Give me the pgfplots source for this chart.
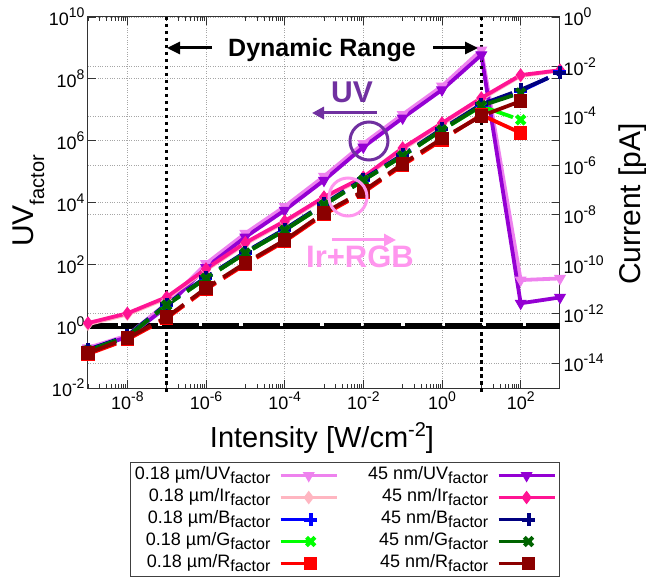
\documentclass[border=0pt]{standalone}
\usepackage{fontspec}
\setmainfont{Liberation Sans}
\usepackage{pgfplots}
\pgfplotsset{compat=1.18}
\usetikzlibrary{arrows.meta}

\definecolor{uvA}{RGB}{238,130,238}
\definecolor{uvB}{RGB}{148,0,211}
\definecolor{irA}{RGB}{255,182,193}
\definecolor{irB}{RGB}{255,20,147}
\definecolor{bA}{RGB}{0,0,255}
\definecolor{bB}{RGB}{0,0,128}
\definecolor{gA}{RGB}{0,255,0}
\definecolor{gB}{RGB}{0,100,0}
\definecolor{rA}{RGB}{255,0,0}
\definecolor{rB}{RGB}{139,0,0}
\definecolor{uvnote}{RGB}{112,48,160}
\definecolor{rgbnote}{RGB}{255,150,238}

% lowered / raised small text
\newcommand\sub[2][16]{\raisebox{-4pt}{\fontsize{#1}{#1}\selectfont #2}}
\newcommand\sups[1]{\raisebox{8pt}{\fontsize{14}{14}\selectfont #1}}

\pgfplotsset{
  longimg/.style={legend image code/.code={%
    \draw[solid,mark repeat=2,mark phase=2] plot coordinates {(0pt,0pt)(28pt,0pt)(56pt,0pt)};}},
  shortimg/.style={legend image code/.code={%
    \draw[solid,mark repeat=2,mark phase=2] plot coordinates {(0pt,0pt)(30pt,0pt)(33pt,0pt)};}},
  uv/.style={line width=3.8pt, mark=triangle*, mark size=6pt, mark options={rotate=180,solid,line width=1pt}, longimg},
  ir/.style={line width=3.8pt, mark=diamond*, mark size=6pt, mark options={solid,line width=1pt}, longimg},
  bb/.style={line width=3.8pt, dash pattern=on 30pt off 9pt, mark=+, mark size=6.5pt, mark options={solid,line width=4pt}, shortimg},
  gg/.style={line width=3.8pt, dash pattern=on 30pt off 9pt, mark=x, mark size=6pt, mark options={solid,line width=4pt}, shortimg},
  rr/.style={line width=3.8pt, dash pattern=on 30pt off 9pt, mark=square*, mark size=6pt, mark options={solid,line width=1.5pt}, shortimg},
}

\begin{document}
\begin{tikzpicture}
\path[use as bounding box] (0pt,0pt) rectangle (646pt,579pt);

% right-hand current axis
\begin{axis}[
  at={(88pt,191pt)}, anchor=south west,
  scale only axis, width=472pt, height=371pt,
  xmode=log, ymode=log,
  xmin=1e-9, xmax=1e3, ymin=1e-15, ymax=1,
  axis x line=none, axis y line*=right,
  axis line style={line width=1pt, black!80},
  tick align=inside, major tick length=8pt,
  tick style={line width=0.8pt, black!80},
  yminorticks=false,
  ytick={1e-14,1e-12,1e-10,1e-8,1e-6,1e-4,1e-2,1},
  yticklabels={10\sups{-14},10\sups{-12},10\sups{-10},10\sups{-8},10\sups{-6},10\sups{-4},10\sups{-2},10\sups{0}},
  yticklabel style={font=\fontsize{18}{18}\selectfont},
  ymajorgrids,
  grid style={dotted, gray!70, line width=0.8pt},
]
\end{axis}

% main axis
\begin{axis}[
  at={(88pt,191pt)}, anchor=south west,
  scale only axis, width=472pt, height=371pt,
  xmode=log, ymode=log,
  xmin=1e-9, xmax=1e3, ymin=1e-2, ymax=1e10,
  clip=false,
  axis line style={line width=1pt, black!80},
  tick align=inside, major tick length=8pt, minor tick length=4.5pt,
  tick style={line width=0.8pt, black!80},
  xtick={1e-8,1e-6,1e-4,1e-2,1,1e2},
  xticklabels={10\sups{-8},10\sups{-6},10\sups{-4},10\sups{-2},10\sups{0},10\sups{2}},
  minor xtick={1e-9,2e-9,3e-9,4e-9,5e-9,6e-9,7e-9,8e-9,9e-9,
               1e-7,2e-7,3e-7,4e-7,5e-7,6e-7,7e-7,8e-7,9e-7,
               1e-5,2e-5,3e-5,4e-5,5e-5,6e-5,7e-5,8e-5,9e-5,
               1e-3,2e-3,3e-3,4e-3,5e-3,6e-3,7e-3,8e-3,9e-3,
               1e-1,2e-1,3e-1,4e-1,5e-1,6e-1,7e-1,8e-1,9e-1,
               10,20,30,40,50,60,70,80,90},
  ytick={1e-2,1,1e2,1e4,1e6,1e8,1e10},
  yticklabels={10\sups{-2},10\sups{0},10\sups{2},10\sups{4},10\sups{6},10\sups{8},10\sups{10}},
  yminorticks=false,
  ticklabel style={font=\fontsize{18}{18}\selectfont},
  xmajorgrids, ymajorgrids,
  grid style={dotted, gray!70, line width=0.8pt},
  legend plot pos=right,
  legend cell align=right,
  legend columns=2,
  legend style={at={(1,-0.1995)}, anchor=north east,
    font=\fontsize{18}{18}\selectfont,
    draw=black!75, line width=1pt, fill=white,
    column sep=7pt, row sep=0pt,
    /tikz/every even column/.append style={column sep=28pt},
    nodes={text height=13pt, text depth=6pt, inner sep=1.5pt}},
]
% unity reference line
\addplot[black, line width=3pt, yshift=-1.5pt, forget plot] coordinates {(1e-9,1) (1e3,1)};
\addplot[black, line width=6pt, dash pattern=on 37pt off 3.5pt, dash phase=7pt, forget plot] coordinates {(1e-9,1) (1e3,1)};

\addplot[uv, color=uvA] coordinates {(1e-9,0.2) (1e-8,0.5) (1e-7,5.5) (1e-6,105) (1e-5,1000) (1e-4,7400) (1e-3,7.0e4) (1e-2,8.0e5) (1e-1,7.0e6) (1,5.8e7) (10,8.5e8) (100,31) (1000,35)};
\addlegendentry{0.18 µm/UV\sub{factor}}
\addplot[uv, color=uvB] coordinates {(1e-9,0.18) (1e-8,0.44) (1e-7,4.2) (1e-6,79) (1e-5,760) (1e-4,5600) (1e-3,5.2e4) (1e-2,6.2e5) (1e-1,5.4e6) (1,4.4e7) (10,5.9e8) (100,5.5) (1000,8.5)};
\addlegendentry{45 nm/UV\sub{factor}}
\addplot[ir, color=irA] coordinates {(1e-9,1.15) (1e-8,2.4) (1e-7,8.0) (1e-6,65) (1e-5,460) (1e-4,2300) (1e-3,1.4e4) (1e-2,6.1e4) (1e-1,5.3e5) (1,3.4e6) (10,2.2e7) (100,1.25e8) (1000,1.85e8)};
\addlegendentry{0.18 µm/Ir\sub{factor}}
\addplot[ir, color=irB] coordinates {(1e-9,1.26) (1e-8,2.6) (1e-7,8.7) (1e-6,71) (1e-5,500) (1e-4,2500) (1e-3,1.5e4) (1e-2,6.6e4) (1e-1,5.8e5) (1,3.7e6) (10,2.4e7) (100,1.32e8) (1000,1.9e8)};
\addlegendentry{45 nm/Ir\sub{factor}}
\addplot[bb, color=bA] coordinates {(1e-9,0.17) (1e-8,0.47) (1e-7,5.0) (1e-6,37) (1e-5,240) (1e-4,1320) (1e-3,8700) (1e-2,5.5e4) (1e-1,3.35e5) (1,2.3e6) (10,1.4e7) (100,4.0e7) (1000,1.66e8)};
\addlegendentry{0.18 µm/B\sub{factor}}
\addplot[bb, color=bB] coordinates {(1e-9,0.17) (1e-8,0.49) (1e-7,5.2) (1e-6,38) (1e-5,250) (1e-4,1380) (1e-3,9100) (1e-2,5.7e4) (1e-1,3.5e5) (1,2.4e6) (10,1.5e7) (100,4.4e7) (1000,1.55e8)};
\addlegendentry{45 nm/B\sub{factor}}
\addplot[gg, color=gA] coordinates {(1e-9,0.16) (1e-8,0.45) (1e-7,4.8) (1e-6,35) (1e-5,230) (1e-4,1260) (1e-3,8300) (1e-2,5.2e4) (1e-1,3.2e5) (1,2.2e6) (10,1.3e7) (100,4.7e6)};
\addlegendentry{0.18 µm/G\sub{factor}}
\addplot[gg, color=gB] coordinates {(1e-9,0.16) (1e-8,0.45) (1e-7,4.8) (1e-6,35) (1e-5,230) (1e-4,1260) (1e-3,8300) (1e-2,5.2e4) (1e-1,3.2e5) (1,2.2e6) (10,1.35e7) (100,3.5e7)};
\addlegendentry{45 nm/G\sub{factor}}
\addplot[rr, color=rA] coordinates {(1e-9,0.125) (1e-8,0.37) (1e-7,1.8) (1e-6,15.5) (1e-5,100) (1e-4,550) (1e-3,4100) (1e-2,2.1e4) (1e-1,1.6e5) (1,1.05e6) (10,6.8e6) (100,1.78e6)};
\addlegendentry{0.18 µm/R\sub{factor}}
\addplot[rr, color=rB] coordinates {(1e-9,0.135) (1e-8,0.41) (1e-7,1.95) (1e-6,17) (1e-5,110) (1e-4,603) (1e-3,4571) (1e-2,2.34e4) (1e-1,1.78e5) (1,1.17e6) (10,6.3e6) (100,1.9e7)};
\addlegendentry{45 nm/R\sub{factor}}

% dynamic range limits
\addplot[black, line width=3.5pt, dash pattern=on 3.5pt off 3.5pt, forget plot] coordinates {(1e-7,1e10) (1e-7,7.4e-3)};
\addplot[black, line width=3.5pt, dash pattern=on 3.5pt off 3.5pt, forget plot] coordinates {(10,1e10) (10,7.4e-3)};
\end{axis}

% annotations, in page points from the lower left corner
\begin{scope}[x=1pt,y=1pt]
\node[anchor=base, font=\bfseries\fontsize{25}{25}\selectfont] at (322,522) {Dynamic Range};
\draw[-{Triangle[length=13pt,width=12pt]}, line width=3pt] (212,531) -- (167,531);
\draw[-{Triangle[length=13pt,width=12pt]}, line width=3pt] (433,531) -- (478,531);

\node[anchor=base, text=uvnote, font=\bfseries\fontsize{30}{30}\selectfont] at (352,476) {UV};
\draw[uvnote, -{Triangle[length=12pt,width=12pt]}, line width=3pt] (377,466) -- (312,466);
\draw[uvnote, line width=3pt] (369,438) circle (19);

\draw[rgbnote, line width=3pt] (348,382) circle (19);
\draw[rgbnote, -{Triangle[length=12pt,width=12pt]}, line width=3pt] (332,339) -- (396,339);
\node[anchor=base, text=rgbnote, font=\bfseries\fontsize{31}{31}\selectfont] at (360,311) {Ir+RGB};

% axis titles
\node[anchor=base, font=\fontsize{29}{29}\selectfont] at (322,131) {Intensity [W/cm\raisebox{11pt}{\fontsize{20}{20}\selectfont -2}]};
\node[rotate=90, anchor=base, font=\fontsize{30}{30}\selectfont] at (33,378) {UV\sub[20]{\raisebox{-7pt}{factor}}};
\node[rotate=90, anchor=base, font=\fontsize{30}{30}\selectfont] at (640,375) {Current [pA]};
\end{scope}
\end{tikzpicture}
\end{document}
